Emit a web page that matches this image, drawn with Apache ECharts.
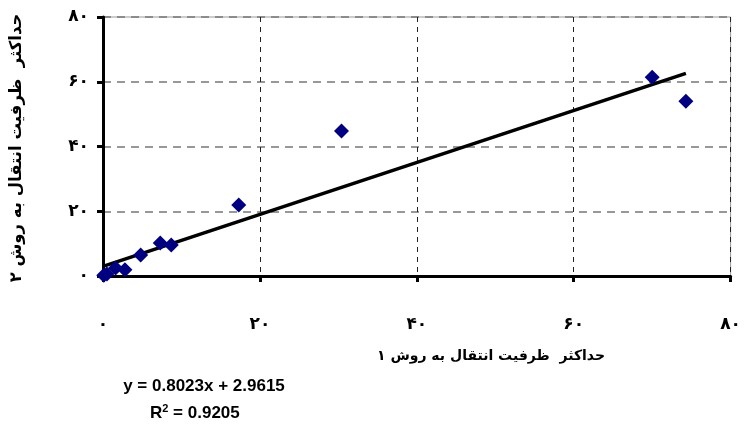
<!DOCTYPE html>
<html>
<head>
<meta charset="utf-8">
<script src="https://cdn.jsdelivr.net/npm/echarts@6/dist/echarts.min.js"></script>
<style>
  html, body { margin: 0; padding: 0; background: #fff; }
  #chart { width: 744px; height: 440px; }
</style>
</head>
<body>
<div id="chart"></div>
<script>
// داده‌ها
var xValues = [0.1, 0.5, 1.6, 2.8, 4.8, 7.3, 8.7, 17.3, 30.4, 70.0, 74.3];
var yValues = [0.2, 0.6, 2.5, 1.9, 6.5, 10.2, 9.6, 21.9, 44.8, 61.4, 54.0];
var trendX = [0, 74.3];
var slope = 0.8023, intercept = 2.9615;
var tickLabels = ['۰', '۲۰', '۴۰', '۶۰', '۸۰'];
var xTitle = 'حداکثر  ظرفیت انتقال به روش ۱';
var yTitle = 'حداکثر  ظرفیت انتقال به روش ۲';
var eqText = 'y = 0.8023x + 2.9615';

var points = xValues.map(function (x, i) { return [x, yValues[i]]; });
var trend = trendX.map(function (x) { return [x, slope * x + intercept]; });

function persian(v) { return tickLabels[Math.round(v / 20)] || ''; }

var font = '"DejaVu Sans", Arial, sans-serif';

var myChart = echarts.init(document.getElementById('chart'));
var option = {
  backgroundColor: '#fff',
  animation: false,
  grid: { left: 103, right: 12, top: 17, bottom: 164, show: true, borderColor: '#999', borderWidth: 1 },
  xAxis: {
    type: 'value', min: 0, max: 80, interval: 20,
    axisLine: { show: true, onZero: false, lineStyle: { color: '#000', width: 3 } },
    axisTick: { show: true, length: 6, lineStyle: { color: '#000', width: 3 } },
    axisLabel: { margin: 40, formatter: persian, color: '#000', fontSize: 17, fontWeight: 'bold', fontFamily: font },
    splitLine: { show: true, lineStyle: { color: '#222', type: [5, 5], width: 1 } }
  },
  yAxis: {
    type: 'value', min: 0, max: 80, interval: 20,
    axisLine: { show: true, onZero: false, lineStyle: { color: '#000', width: 3 } },
    axisTick: { show: true, length: 6, lineStyle: { color: '#000', width: 3 } },
    axisLabel: { margin: 14, formatter: persian, color: '#000', fontSize: 17, fontWeight: 'bold', fontFamily: font },
    splitLine: { show: true, lineStyle: { color: '#777', type: [8, 6], width: 1.5 } }
  },
  series: [
    {
      type: 'line', data: trend, showSymbol: false, symbol: 'none',
      lineStyle: { color: '#000', width: 3.5 }, z: 2
    },
    {
      type: 'scatter', data: points, symbol: 'diamond', symbolSize: 15,
      itemStyle: { color: '#000080', opacity: 1 }, z: 3
    }
  ],
  graphic: [
    {
      type: 'text', x: 17, y: 148, rotation: Math.PI / 2,
      style: { text: yTitle, fill: '#000', font: 'bold 16.5px ' + font, textAlign: 'center', textVerticalAlign: 'middle' }
    },
    {
      type: 'text', x: 491, y: 356,
      style: { text: xTitle, fill: '#000', font: 'bold 14px ' + font, textAlign: 'center', textVerticalAlign: 'middle' }
    },
    {
      type: 'text', x: 204, y: 386,
      style: { text: eqText, fill: '#000', font: 'bold 17px Arial, "Liberation Sans", sans-serif', textAlign: 'center', textVerticalAlign: 'middle' }
    },
    {
      type: 'text', x: 150, y: 413,
      style: {
        text: '{b|R}{s|2}{b| = 0.9205}', fill: '#000', textVerticalAlign: 'middle',
        rich: {
          b: { font: 'bold 17px Arial, "Liberation Sans", sans-serif', fill: '#000' },
          s: { font: 'bold 11px Arial, "Liberation Sans", sans-serif', fill: '#000', verticalAlign: 'top', padding: [0, 0, 8, 0] }
        }
      }
    }
  ]
};
myChart.setOption(option);
window.onresize = function () { myChart.resize(); };
</script>
</body>
</html>
